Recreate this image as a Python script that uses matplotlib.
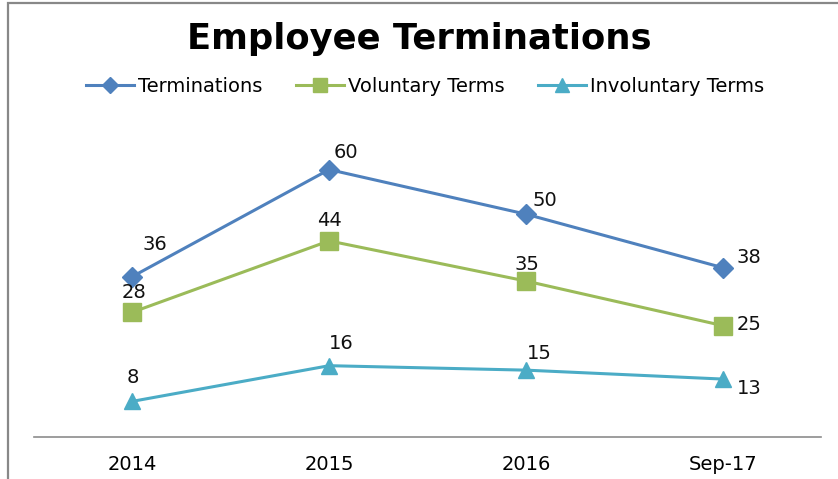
import matplotlib

matplotlib.use("Agg")
import matplotlib.pyplot as plt
from matplotlib.patches import Rectangle

plt.rcParams["font.family"] = ["DejaVu Sans"]

categories = ["2014", "2015", "2016", "Sep-17"]
terminations = [36, 60, 50, 38]
voluntary = [28, 44, 35, 25]
involuntary = [8, 16, 15, 13]

series = [
    ("Terminations", terminations, "#4F81BD", "D", 10,
     [(16, 23), (12, 12), (14, 10), (19, 7)]),
    ("Voluntary Terms", voluntary, "#9BBB59", "s", 12.5,
     [(1, 14), (0, 15), (1, 12), (19, 1)]),
    ("Involuntary Terms", involuntary, "#4BACC6", "^", 12,
     [(0, 17), (9, 16), (10, 12), (19, -7)]),
]

W, H = 838, 479
fig = plt.figure(figsize=(W / 100, H / 100), dpi=100)
ax = fig.add_axes([34 / W, (H - 437) / H, (821 - 34) / W, (437 - 125) / H])

x = range(len(categories))
for name, vals, color, marker, ms, offs in series:
    ax.plot(x, vals, color=color, lw=2.2, marker=marker, markersize=ms,
            label=name, clip_on=False)
    for xi, v, off in zip(x, vals, offs):
        ax.annotate(str(v), (xi, v), xytext=off, textcoords="offset points",
                    ha="center", va="center", fontsize=14, color="#111111")

ax.set_xlim(-0.5, len(categories) - 0.5)
ax.set_ylim(0, 70)
ax.set_xticks(list(x))
ax.set_xticklabels(categories, fontsize=14)
ax.tick_params(axis="x", length=0, pad=13)
ax.set_yticks([])
for s in ["left", "right", "top"]:
    ax.spines[s].set_visible(False)
ax.spines["bottom"].set_color("#8C8C8C")
ax.spines["bottom"].set_linewidth(1.2)

fig.text(0.5, 1 - 39 / H, "Employee Terminations", ha="center", va="center",
         fontsize=25.5, fontweight="bold")

fig.legend(loc="center", bbox_to_anchor=(425 / W, 1 - 86 / H), ncol=3,
           frameon=False, fontsize=14, handlelength=2.5, handletextpad=0.2,
           columnspacing=1.7, markerscale=0.85)

# outer chart frame (cut off on the right and bottom)
fig.patches.append(Rectangle((8 / W, -0.1), 1.0, 1 - 3 / H + 0.1,
                             transform=fig.transFigure, fill=False,
                             edgecolor="#888888", lw=1.6))

fig.savefig("out.png", dpi=100)
